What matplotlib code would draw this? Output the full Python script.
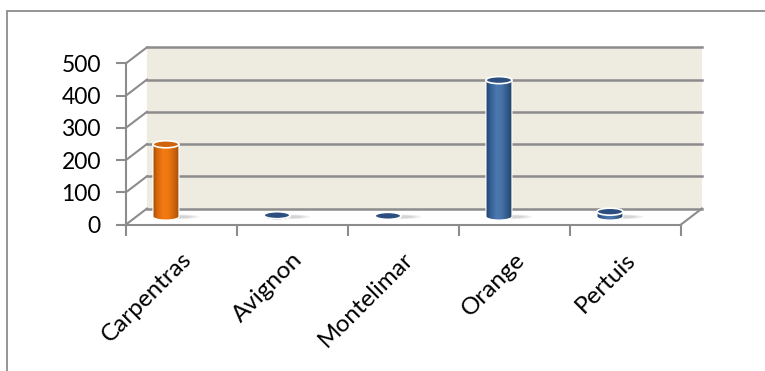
#!/usr/bin/env python3
"""3-D style cylinder chart of counts per town."""

import numpy as np
import matplotlib
matplotlib.use("Agg")
import matplotlib.pyplot as plt
from matplotlib.patches import Ellipse, PathPatch, Rectangle
from matplotlib.path import Path
from matplotlib.colors import LinearSegmentedColormap

towns = ["Carpentras", "Avignon", "Montelimar", "Orange", "Pertuis"]
counts = [224, 4, 2, 423, 15]
bar_tone = ["orange", "blue", "blue", "blue", "blue"]
y_ticks = [0, 100, 200, 300, 400, 500]

plt.rcParams["font.family"] = ["Lato", "DejaVu Sans"]

GRID = "#8C8C8C"
WALL = "#EEECE1"
DEPTH_X = 0.189      # back wall shift, in categories
DEPTH_Y = 49.6       # back wall shift, in value units
BAR_SHIFT = 0.36     # cylinder centre inside a category slot
BAR_W = 0.234
CAP_H = 10.9         # half height of the cylinder ellipses

shades = {
    "orange": LinearSegmentedColormap.from_list(
        "cyl_orange",
        [(0, "#9C4A08"), (0.15, "#D4660A"), (0.4, "#F47B12"),
         (0.6, "#EE760F"), (0.85, "#C9600A"), (1, "#A04E08")]),
    "blue": LinearSegmentedColormap.from_list(
        "cyl_blue",
        [(0, "#22406A"), (0.15, "#335C92"), (0.4, "#4B78B0"),
         (0.6, "#4874AA"), (0.85, "#305684"), (1, "#233F68")]),
}
cap_color = {"orange": "#D0640C", "blue": "#2C4F80"}

fig = plt.figure(figsize=(7.65, 3.71), dpi=100)
fig.patches.append(Rectangle((7 / 765, -0.1), 2, (371 - 11) / 371 + 0.1,
                             transform=fig.transFigure, fill=False,
                             edgecolor=GRID, lw=1.3))

ax = fig.add_axes([126 / 765, (371 - 224.5) / 371, 555 / 765, (224.5 - 63.3) / 371])
n = len(towns)

# back wall, side wall lines and floor
ax.add_patch(Rectangle((DEPTH_X, DEPTH_Y), n, y_ticks[-1], facecolor=WALL,
                       edgecolor="none", zorder=0, clip_on=False))
for v in y_ticks:
    ax.plot([0, DEPTH_X], [v, v + DEPTH_Y], color=GRID, lw=1.5, zorder=1, clip_on=False)
    ax.plot([DEPTH_X, n + DEPTH_X], [v + DEPTH_Y, v + DEPTH_Y], color=GRID, lw=1.8,
            zorder=1, clip_on=False)
ax.plot([n, n + DEPTH_X], [0, DEPTH_Y], color=GRID, lw=1.5, zorder=1, clip_on=False)

grad = np.linspace(0, 1, 256).reshape(1, -1)
base = DEPTH_Y / 2
for i, (val, tone) in enumerate(zip(counts, bar_tone)):
    cx = i + BAR_SHIFT
    top = base + val
    # soft floor shadow
    for k, a in enumerate([0.10, 0.12, 0.15]):
        ax.add_patch(Ellipse((cx + 0.12, base - 1), 0.36 - 0.07 * k, 14 - 3 * k,
                             facecolor="#7F7F7F", edgecolor="none", alpha=a,
                             zorder=2, clip_on=False))
    t = np.linspace(np.pi, 2 * np.pi, 40)
    verts = [(cx - BAR_W / 2, top)]
    verts += list(zip(cx + BAR_W / 2 * np.cos(t), base + CAP_H * np.sin(t)))
    verts += [(cx + BAR_W / 2, top), (cx - BAR_W / 2, top)]
    body = Path(verts, closed=True)
    clip = PathPatch(body, facecolor="none", edgecolor="none")
    ax.add_patch(clip)
    im = ax.imshow(grad, cmap=shades[tone], aspect="auto", zorder=3,
                   extent=[cx - BAR_W / 2, cx + BAR_W / 2, base - CAP_H, top])
    im.set_clip_path(clip)
    ax.add_patch(PathPatch(body, facecolor="none", edgecolor="white", lw=0.8,
                           zorder=3.5))
    ax.add_patch(Ellipse((cx, top), BAR_W, 2 * CAP_H, facecolor=cap_color[tone],
                         edgecolor="white", lw=1.2, zorder=4, clip_on=False))

ax.set_xlim(0, n)
ax.set_ylim(0, y_ticks[-1])
ax.set_facecolor("none")
for side in ["top", "right"]:
    ax.spines[side].set_visible(False)
for side in ["left", "bottom"]:
    ax.spines[side].set_color(GRID)
    ax.spines[side].set_linewidth(1.5)

ax.set_yticks(y_ticks)
ax.set_xticks(range(n + 1))
ax.set_xticklabels([])
ax.tick_params(axis="y", length=7, width=1.5, color=GRID, labelsize=16.5, pad=11)
ax.tick_params(axis="x", length=8, width=1.5, color=GRID)

for i, name in enumerate(towns):
    ax.text(i + 0.56, -98, name, rotation=45, ha="right", va="center",
            rotation_mode="anchor", fontsize=17.5, clip_on=False)

fig.savefig("out.png", dpi=100)
